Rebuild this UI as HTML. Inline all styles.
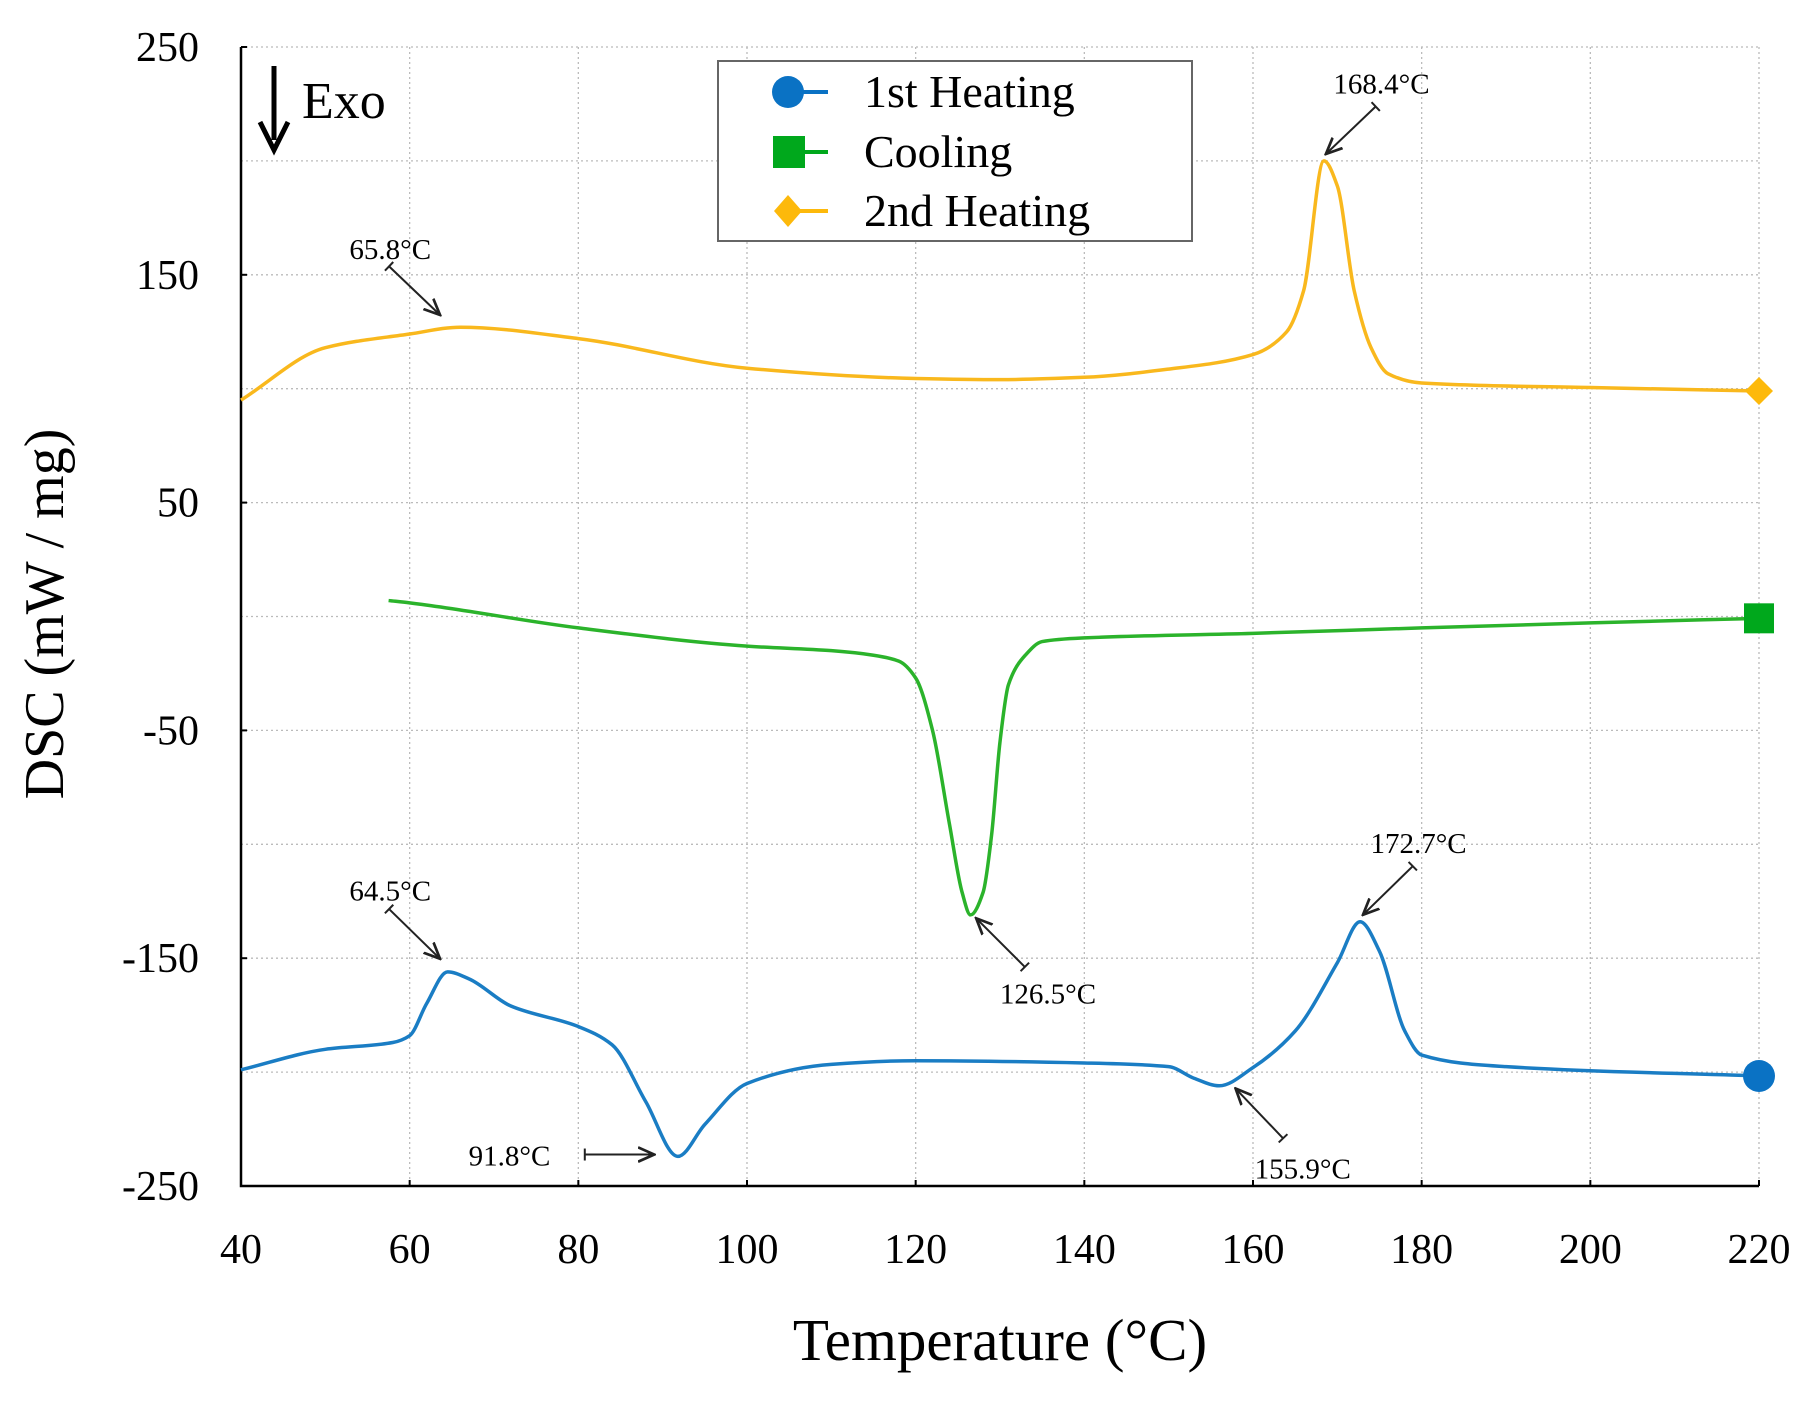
<!DOCTYPE html>
<html><head><meta charset="utf-8">
<style>
html,body{margin:0;padding:0;background:#fff;}
svg{display:block;font-family:"Liberation Serif","DejaVu Serif",serif;}
</style></head>
<body>
<svg id="chart" width="1817" height="1402" viewBox="0 0 1817 1402" xmlns="http://www.w3.org/2000/svg">
<defs>
<marker id="ah" viewBox="0 0 10 10" refX="9" refY="5" markerWidth="9" markerHeight="9" orient="auto-start-reverse">
<path d="M0,1 L9,5 L0,9" fill="none" stroke="#222" stroke-width="1.5"/>
</marker>
</defs>
<g id="grid"></g>
<g id="axes"></g>
<g id="series"></g>
<g id="annos"></g>
<g id="legend"></g>
<text x="50" y="614" font-size="56" text-anchor="middle" transform="rotate(-90 50 614)" dominant-baseline="middle">DSC (mW / mg)</text>
<text x="1000" y="1360" font-size="59" text-anchor="middle">Temperature (°C)</text>
<g>
<line x1="274" y1="66" x2="274" y2="140" stroke="#000" stroke-width="5"/>
<path d="M260,122 L274,150 L288,122" fill="none" stroke="#000" stroke-width="5"/>
<text x="302" y="118" font-size="52">Exo</text>
</g>
</svg>
<script>
const xTicks=[40,60,80,100,120,140,160,180,200,220];
const yTicks=[250,150,50,-50,-150,-250];
const yGrid=[250,200,150,100,50,0,-50,-100,-150,-200,-250];
const heat1X=[40,50,58,60,62,64.5,67,72,80,84,88,91.8,95,100,110,120,140,150,153,156,160,165,170,172.7,175,178,180,190,220];
const heat1Y=[-199,-190,-187,-184,-170,-156,-159,-171,-180,-188,-213,-237,-223,-205,-196.6,-195,-196,-197.6,-202.7,-206,-198,-182,-152,-134,-147,-182,-192.5,-197.6,-201.7];
const coolX=[57.5,60,80,100,110,115,118,120,122,124,125.5,126.5,128,129,130,131,133,135,140,160,180,200,220];
const coolY=[7,6,-5,-13,-15,-17,-19.6,-27,-50,-91,-121,-131,-121,-96,-55,-30,-17,-11,-9.4,-7.4,-5,-2.8,-0.8];
const heat2X=[40,50,60,66,80,100,120,130,140,150,160,164,166,168.4,170,172,174,176,180,200,220];
const heat2Y=[95,118,124,127,122,109,104.5,104,105,108.6,115,125,143,200,189,143,118,106.6,102.5,100.5,99];
const X0=241,X1=1759,Y0=47,Y1=1186;
const sx=v=>X0+(v-40)/(180)*(X1-X0);
const sy=v=>Y0+(250-v)/500*(Y1-Y0);
const NS="http://www.w3.org/2000/svg";
function mk(tag,attrs,parent){const e=document.createElementNS(NS,tag);for(const k in attrs)e.setAttribute(k,attrs[k]);parent.appendChild(e);return e;}
const grid=document.getElementById('grid'),axes=document.getElementById('axes'),series=document.getElementById('series'),annos=document.getElementById('annos'),legend=document.getElementById('legend');
xTicks.forEach(t=>{
 const l=mk('line',{x1:sx(t),x2:sx(t),y1:Y0,y2:Y1,stroke:'#bbb','stroke-width':1.3,'stroke-dasharray':'2,3'},grid);
 
 
 const tk=mk('line',{x1:sx(t),x2:sx(t),y1:Y1,y2:Y1-6,stroke:'#000','stroke-width':2},axes);
 
 
 const tx=mk('text',{x:sx(t),y:Y1+77,'font-size':42,'text-anchor':'middle'},axes);
 tx.textContent=t;
 
 
});
yGrid.forEach(t=>{
 const l=mk('line',{x1:X0,x2:X1,y1:sy(t),y2:sy(t),stroke:'#bbb','stroke-width':1.3,'stroke-dasharray':'2,3'},grid);
 
 
});
yTicks.forEach(t=>{
 const tk=mk('line',{x1:X0,x2:X0+6,y1:sy(t),y2:sy(t),stroke:'#000','stroke-width':2},axes);
 
 
 const tx=mk('text',{x:X0-42,y:sy(t)+14,'font-size':42,'text-anchor':'end'},axes);
 tx.textContent=t;
 
 
});
const ax=mk('path',{d:`M${X0},${Y0} L${X0},${Y1} L${X1},${Y1}`,fill:'none',stroke:'#000','stroke-width':2.5},axes);


function smooth(xs,ys){
 const px=xs.map(sx),py=ys.map(sy),n=px.length;
 const d=[],m=new Array(n);
 for(let i=0;i<n-1;i++)d.push((py[i+1]-py[i])/(px[i+1]-px[i]));
 m[0]=d[0];m[n-1]=d[n-2];
 for(let i=1;i<n-1;i++){
  if(d[i-1]*d[i]<=0)m[i]=0;
  else{const h0=px[i]-px[i-1],h1=px[i+1]-px[i];const w1=2*h1+h0,w2=h1+2*h0;m[i]=(w1+w2)/(w1/d[i-1]+w2/d[i]);}
 }
 let s=`M${px[0]},${py[0]}`;
 for(let i=0;i<n-1;i++){
  const h=(px[i+1]-px[i])/3;
  s+=` C${px[i]+h},${py[i]+m[i]*h} ${px[i+1]-h},${py[i+1]-m[i+1]*h} ${px[i+1]},${py[i+1]}`;
 }
 return s;
}
const s2=mk('path',{d:smooth(heat2X,heat2Y),fill:'none',stroke:'#f9b81d','stroke-width':3.5},series);


const sc=mk('path',{d:smooth(coolX,coolY),fill:'none',stroke:'#2bb32b','stroke-width':3.5},series);


const s1=mk('path',{d:smooth(heat1X,heat1Y),fill:'none',stroke:'#1a7dc4','stroke-width':3.5},series);


const ex=sx(220);
const m1=mk('circle',{cx:ex,cy:sy(heat1Y[heat1Y.length-1]),r:16,fill:'#0a72c4'},series);


const cy2=sy(coolY[coolY.length-1]);
const m2=mk('rect',{x:ex-15,y:cy2-15,width:30,height:30,fill:'#00a81c'},series);


const hy=sy(heat2Y[heat2Y.length-1]);
const m3=mk('path',{d:`M${ex},${hy-14} L${ex+14},${hy} L${ex},${hy+14} L${ex-14},${hy}Z`,fill:'#fdb90b'},series);


const K=1.158;
const annoList=[
 ['65.8°C',337,215,336,230,380,272],
 ['168.4°C',1193,72,1188,92,1145,133],
 ['64.5°C',337,769,336,785,380,828],
 ['126.5°C',905,858,885,835,843,793],
 ['172.7°C',1225,728,1220,748,1177,790],
 ['91.8°C',440,998,505,997,565,997],
 ['155.9°C',1125,1009,1108,983,1067,940]
];
annoList.forEach(a=>{
 const g=mk('g',{},annos);
 
 
 const t=mk('text',{x:a[1]*K,y:a[2]*K+10,'font-size':29,'text-anchor':'middle'},g);
 t.textContent=a[0];
 const x1=a[3]*K,y1=a[4]*K,x2=a[5]*K,y2=a[6]*K;
 mk('line',{x1,y1,x2,y2,stroke:'#222','stroke-width':2,'marker-end':'url(#ah)'},g);
 const dx=x2-x1,dy=y2-y1,L=Math.hypot(dx,dy),nx=-dy/L*6,ny=dx/L*6;
 mk('line',{x1:x1+nx,y1:y1+ny,x2:x1-nx,y2:y1-ny,stroke:'#222','stroke-width':2},g);
});
const box=mk('rect',{x:718,y:61,width:474,height:180,fill:'#fff',stroke:'#666','stroke-width':2},legend);


const legItems=[['1st Heating','#0a72c4','circle',92],['Cooling','#00a81c','square',152],['2nd Heating','#fdb90b','diamond',211]];
legItems.forEach(it=>{
 const g=mk('g',{},legend);
 
 
 const y=it[3];
 mk('line',{x1:788,x2:828,y1:y,y2:y,stroke:it[1],'stroke-width':4},g);
 if(it[2]==='circle')mk('circle',{cx:788,cy:y,r:16,fill:it[1]},g);
 else if(it[2]==='square')mk('rect',{x:773,y:y-16,width:32,height:32,fill:it[1]},g);
 else mk('path',{d:`M788,${y-16} L802,${y} L788,${y+16} L774,${y}Z`,fill:it[1]},g);
 const t=mk('text',{x:864,y:y+15,'font-size':46},g);
 t.textContent=it[0];
});
</script>
</body></html>
